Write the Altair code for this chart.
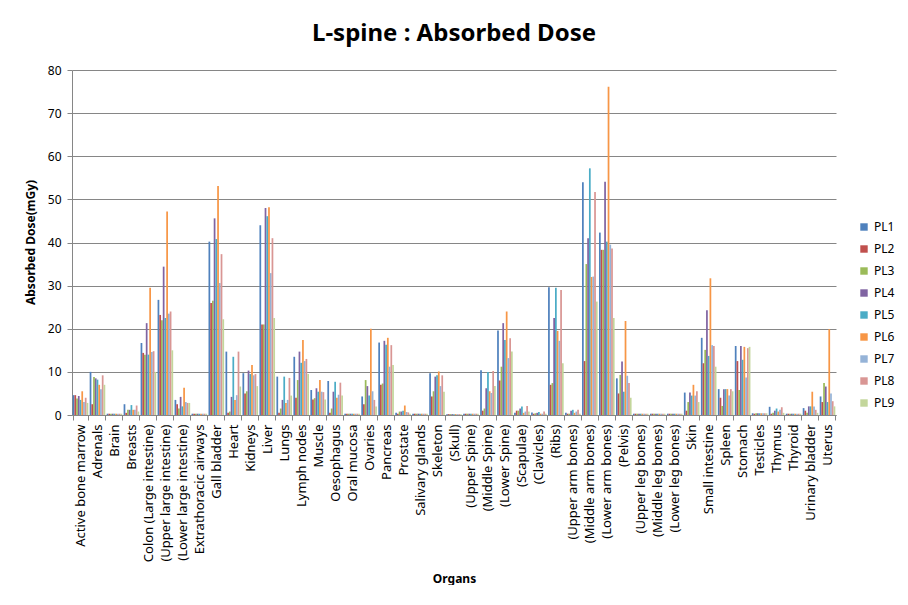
import altair as alt
import pandas as pd

organs = ["Active bone marrow", "Adrenals", "Brain", "Breasts", "Colon (Large intestine)",
          "(Upper large intestine)", "(Lower large intestine)", "Extrathoracic airways",
          "Gall bladder", "Heart", "Kidneys", "Liver", "Lungs", "Lymph nodes", "Muscle",
          "Oesophagus", "Oral mucosa", "Ovaries", "Pancreas", "Prostate", "Salivary glands",
          "Skeleton", "(Skull)", "(Upper Spine)", "(Middle Spine)", "(Lower Spine)",
          "(Scapulae)", "(Clavicles)", "(Ribs)", "(Upper arm bones)", "(Middle arm bones)",
          "(Lower arm bones)", "(Pelvis)", "(Upper leg bones)", "(Middle leg bones)",
          "(Lower leg bones)", "Skin", "Small intestine", "Spleen", "Stomach", "Testicles",
          "Thymus", "Thyroid", "Urinary bladder", "Uterus"]

series = ["PL1", "PL2", "PL3", "PL4", "PL5", "PL6", "PL7", "PL8", "PL9"]
colors = ["#4F81BD", "#C0504D", "#9BBB59", "#8064A2", "#4BACC6", "#F79646", "#95B3D7", "#D99694", "#C3D69B"]

PL1 = [4.6,10.0,0.3,2.5,16.7,26.7,3.5,0.3,40.2,14.7,9.7,44.0,8.9,13.5,5.8,7.9,0.3,4.3,16.8,0.5,0.3,9.7,0.2,0.3,10.4,19.6,0.5,0.6,29.6,0.5,54.0,42.3,8.5,0.3,0.3,0.3,5.2,17.9,6.0,16.0,0.4,1.9,0.3,1.6,4.3]
PL2 = [4.6,2.5,0.3,0.5,14.4,23.2,2.5,0.3,26.0,0.5,5.0,21.0,0.5,4.0,3.6,0.5,0.3,2.5,7.0,0.3,0.3,4.3,0.2,0.3,1.0,8.0,1.0,0.3,7.0,0.3,12.5,38.3,5.0,0.3,0.3,0.3,1.0,12.0,4.0,12.5,0.3,0.3,0.3,1.0,3.0]
PL3 = [3.8,8.8,0.3,1.2,14.0,22.0,1.5,0.3,26.5,0.8,5.5,21.0,1.5,8.1,3.9,1.5,0.3,8.1,7.3,0.8,0.3,5.5,0.2,0.3,1.5,11.2,1.0,0.4,7.4,0.3,35.0,38.3,9.3,0.3,0.3,0.3,3.0,15.1,2.1,5.8,0.4,0.5,0.3,0.5,7.4]
PL4 = [4.4,8.5,0.3,1.2,21.3,34.4,4.2,0.3,45.6,4.2,10.3,48.0,3.5,14.7,6.2,5.4,0.3,6.7,17.2,0.8,0.3,8.9,0.2,0.3,6.2,21.3,1.5,0.5,22.5,1.0,41.0,54.1,12.4,0.3,0.3,0.3,5.2,24.3,6.0,16.0,0.4,1.0,0.3,2.0,6.6]
PL5 = [3.5,8.2,0.3,2.3,14.0,22.5,2.0,0.3,40.8,13.5,9.5,46.1,8.9,12.1,5.4,7.7,0.3,4.5,16.3,1.0,0.3,9.2,0.2,0.3,10.0,17.4,2.0,0.7,29.5,1.2,57.2,40.2,5.4,0.3,0.3,0.3,4.5,13.7,6.0,12.8,0.4,1.5,0.3,2.0,3.0]
PL6 = [5.5,7.0,0.3,1.2,29.5,47.2,6.3,0.3,53.1,3.5,11.6,48.2,2.8,17.4,8.1,4.0,0.3,20.0,17.9,2.2,0.3,10.1,0.2,0.3,5.5,24.0,0.5,0.3,19.5,0.5,32.0,76.1,21.8,0.3,0.3,0.3,7.0,31.7,6.0,15.8,0.4,0.8,0.3,5.4,19.9]
PL7 = [3.0,6.0,0.3,1.2,14.6,23.5,3.0,0.3,30.6,4.6,9.2,32.9,3.5,12.5,5.4,4.7,0.3,5.5,11.2,0.7,0.3,6.7,0.2,0.3,5.1,13.2,0.8,0.3,17.2,0.8,32.1,39.5,9.1,0.3,0.3,0.3,4.5,16.2,4.5,8.7,0.4,1.2,0.3,2.0,5.0]
PL8 = [4.0,9.2,0.3,2.2,14.8,24.0,2.8,0.3,37.3,14.7,9.5,41.0,8.6,13.0,5.3,7.5,0.3,3.5,16.2,0.6,0.3,9.2,0.2,0.3,10.2,17.8,2.1,0.8,29.0,1.2,51.7,38.6,7.4,0.3,0.3,0.3,5.5,16.0,6.0,15.5,0.4,1.8,0.3,1.2,3.2]
PL9 = [2.8,7.0,0.3,0.8,10.0,15.0,2.8,0.3,22.2,6.6,6.7,22.5,4.5,9.5,3.6,4.5,0.3,2.0,11.6,0.3,0.3,5.4,0.2,0.3,6.7,14.7,0.8,0.3,12.0,0.3,26.3,22.5,4.0,0.3,0.3,0.3,3.0,11.2,5.5,15.8,0.4,0.5,0.3,0.5,2.0]

values = [PL1, PL2, PL3, PL4, PL5, PL6, PL7, PL8, PL9]
rows = []
for s, vals in zip(series, values):
    for o, v in zip(organs, vals):
        rows.append({"Organ": o, "Series": s, "Dose": v})
df = pd.DataFrame(rows)

FONT = "Noto Sans"

chart = alt.Chart(df).mark_bar().encode(
    x=alt.X("Organ:N", sort=organs,
            scale=alt.Scale(paddingInner=0.08, paddingOuter=0.04),
            axis=alt.Axis(title="Organs", labelAngle=-90, labelFontSize=13, labelFont=FONT,
                          labelColor="#000000", labelLimit=300, labelPadding=4,
                          tickBand="extent", tickSize=5, tickColor="#868686",
                          domainColor="#868686", titleFont=FONT, titleFontSize=12,
                          titleFontWeight="bold", titleColor="#000000",
                          titleX=382, titleY=163, titleBaseline="middle")),
    xOffset=alt.XOffset("Series:N", sort=series),
    y=alt.Y("Dose:Q", scale=alt.Scale(domain=[0, 80], nice=False),
            axis=alt.Axis(title="Absorbed Dose(mGy)", values=list(range(0, 81, 10)),
                          labelFontSize=12, labelFont=FONT, labelColor="#000000",
                          tickSize=5, tickColor="#868686", domainColor="#868686",
                          gridColor="#868686", labelPadding=6,
                          titleFont=FONT, titleFontSize=12, titleFontWeight="bold",
                          titleColor="#000000", titleAngle=-90, titleX=-42, titleY=172,
                          titleAlign="center", titleBaseline="middle")),
    color=alt.Color("Series:N", sort=series,
                    scale=alt.Scale(domain=series, range=colors),
                    legend=alt.Legend(title=None, orient="none", legendX=786, legendY=151,
                                      symbolType="square", symbolSize=55, symbolStrokeWidth=0,
                                      labelFontSize=12, labelFont=FONT, labelColor="#000000",
                                      rowPadding=10)),
).properties(
    width=764, height=345,
    title=alt.TitleParams("L-spine : Absorbed Dose", font=FONT, fontSize=24,
                          fontWeight="bold", color="#000000", anchor="middle", offset=18),
    autosize=alt.AutoSizeParams(type="none"),
    padding={"left": 64, "top": 62, "right": 64, "bottom": 170},
).configure_view(stroke=None)

chart.save("out.html", embed_options={"renderer": "svg", "actions": False})
